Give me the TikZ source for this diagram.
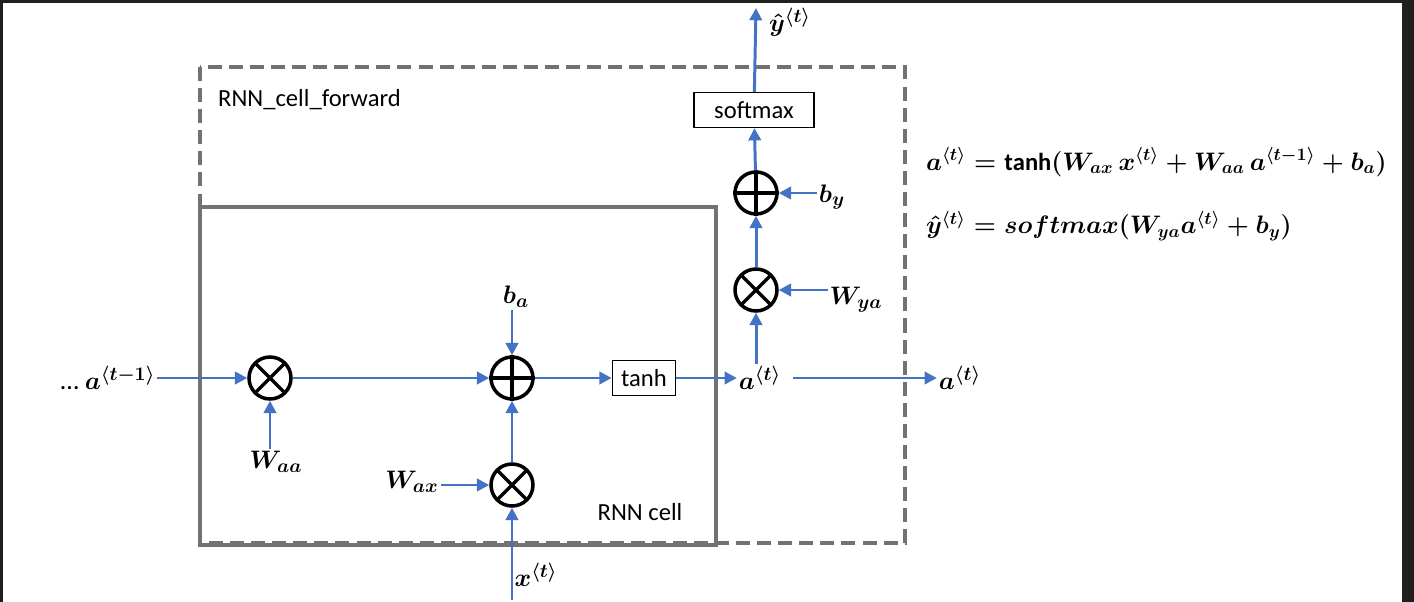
\documentclass[tikz,border=0pt]{standalone}
\usepackage{amsmath}
\usepackage{bm}
\usepackage{fontspec}
\setmainfont{Carlito}
\usetikzlibrary{positioning,arrows.meta}
\definecolor{arrblue}{RGB}{68,114,196}
\definecolor{boxgray}{RGB}{118,113,113}
\newcommand{\tv}[1]{^{\langle #1\rangle}}

\begin{document}
\begin{tikzpicture}[x=0.02cm,y=-0.02cm,
  op/.style={circle,draw,line width=2pt,minimum size=0.84cm,inner sep=0pt},
  fbox/.style={draw,line width=0.9pt,inner sep=5pt,font=\fontsize{14}{16}\selectfont},
  lab/.style={inner sep=1pt,font=\fontsize{15}{18}\selectfont\boldmath},
  flow/.style={-{Triangle[length=7pt,width=7pt]},arrblue,line width=1.7pt}]
  % frame
  \fill[black!88] (0,0) rectangle (1414,602);
  \fill[white] (3,3) rectangle (1402,602);
  % boxes
  \draw[boxgray,line width=2.2pt,dash pattern=on 8pt off 4pt] (200,67) rectangle (905,543);
  \draw[boxgray,line width=2.2pt] (200,207) rectangle (716,545);
  \node[anchor=west,font=\fontsize{14}{16}\selectfont] (fwd) at (212,100) {RNN\_cell\_forward};
  \node[font=\fontsize{14}{16}\selectfont] (cell) at (640,512) {RNN cell};
  % operators
  \node[op] (m1) at (270,378) {};
  \node[op] (p1) at (512,378) {};
  \node[op] (m2) at (512,485) {};
  \node[op] (m3) at (756,290) {};
  \node[op] (p2) at (756,193) {};
  \foreach \n in {m1,m2,m3}
    \draw[line width=2pt] ([shift={(-45:0.42cm)}]\n.center) -- ([shift={(135:0.42cm)}]\n.center)
      ([shift={(45:0.42cm)}]\n.center) -- ([shift={(-135:0.42cm)}]\n.center);
  \foreach \n in {p1,p2}
    \draw[line width=2pt] (\n.north) -- (\n.south) (\n.west) -- (\n.east);
  \node[fbox] (tanh) at (644,378) {tanh};
  \node[fbox,minimum width=2.4cm] (soft) at (754,110) {softmax};
  % labels
  \node[lab] (aprev) at (108,378) {\dots\ $a\tv{t-1}$};
  \node[lab] (waa) at (276,462) {$W_{aa}$};
  \node[lab] (wax) at (412,482) {$W_{ax}$};
  \node[lab] (xt) at (536,575) {$x\tv{t}$};
  \node[lab] (ba) at (516,297) {$b_a$};
  \node[lab] (at) at (760,378) {$a\tv{t}$};
  \node[lab] (aout) at (960,378) {$a\tv{t}$};
  \node[lab] (wya) at (856,300) {$W_{ya}$};
  \node[lab] (by) at (832,197) {$b_y$};
  \node[lab] (yt) at (790,22) {$\hat{y}\tv{t}$};
  \coordinate (ytop) at (756,8);
  \coordinate (xbot) at (512,600);
  \node[lab,anchor=west,font=\fontsize{14}{17}\selectfont\boldmath] (eq1) at (924,162) {$a\tv{t}=\tanh(W_{ax}\,x\tv{t}+W_{aa}\,a\tv{t-1}+b_a)$};
  \node[lab,anchor=west,font=\fontsize{14}{17}\selectfont\boldmath] (eq2) at (924,226) {$\hat{y}\tv{t}=softmax(W_{ya}a\tv{t}+b_y)$};
  % connectors
  \draw[flow] (aprev) -- (m1);
  \draw[flow] (m1) -- (p1);
  \draw[flow] (waa.north -| m1) -- (m1);
  \draw[flow] (ba.south -| p1) -- (p1);
  \draw[flow] (wax.east |- m2) -- (m2);
  \draw[flow] (xbot) -- (m2);
  \draw[flow] (m2) -- (p1);
  \draw[flow] (p1) -- (tanh);
  \draw[flow] (tanh) -- (at);
  \draw[flow] (at.east) ++(10,0) -- (aout);
  \draw[flow] (at.north -| m3) -- (m3);
  \draw[flow] (wya.west |- m3) -- (m3);
  \draw[flow] (m3) -- (p2);
  \draw[flow] (by.west |- p2) -- (p2);
  \draw[flow] (p2) -- (soft);
  \draw[flow] (soft) -- (ytop);
\end{tikzpicture}
\end{document}
